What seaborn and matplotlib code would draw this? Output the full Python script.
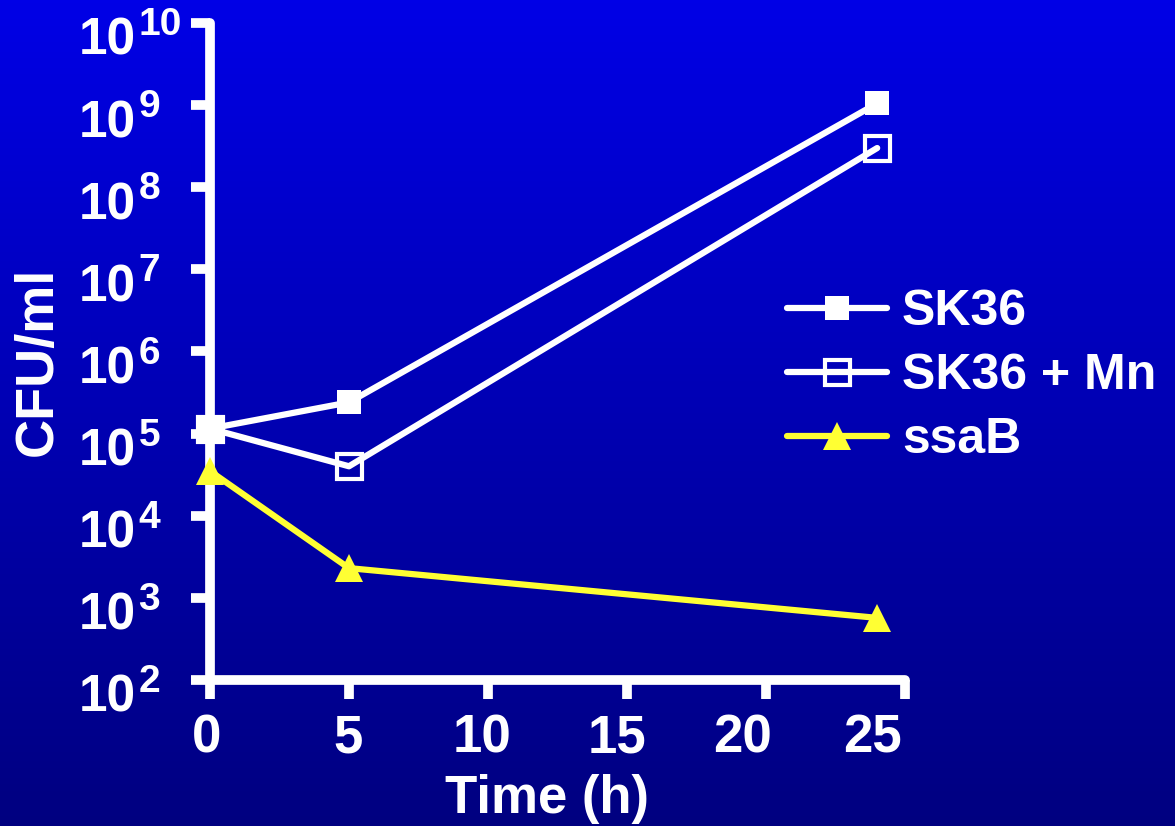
import numpy as np
import matplotlib
matplotlib.use("Agg")
import matplotlib.pyplot as plt
import matplotlib.transforms as mtrans
import seaborn as sns
from matplotlib.colors import LinearSegmentedColormap

# data
time_h = [0, 5, 24]
sk36 = [1.15e5, 2.4e5, 1.05e9]
sk36_mn = [1.15e5, 4.0e4, 3.0e8]
ssab = [3.5e4, 2.3e3, 5.7e2]

y_decades = list(range(2, 11))
x_ticks = [0, 5, 10, 15, 20, 25]
# small horizontal shifts of the x tick labels seen in the reference (px)
x_label_shift = [-3, -1, -6, -10, -23, -32]

sns.set_style("ticks")
plt.rcParams["font.family"] = ["Liberation Sans", "DejaVu Sans"]
plt.rcParams["font.weight"] = "bold"

fig = plt.figure(figsize=(11.75, 8.26), dpi=100)

# gradient background
bg = fig.add_axes([0, 0, 1, 1], zorder=-10)
cmap = LinearSegmentedColormap.from_list("bg", ["#0000E6", "#000080"])
bg.imshow(np.linspace(0, 1, 256).reshape(-1, 1), aspect="auto", cmap=cmap,
          extent=[0, 1, 0, 1])
bg.axis("off")

ax = fig.add_axes([0.1787, 0.1768, 0.5915, 0.7954])
ax.set_facecolor("none")

lw = 4.5
sns.lineplot(x=time_h, y=sk36, ax=ax, color="white", lw=lw, marker="s",
             markersize=17, markeredgewidth=0, label="SK36", clip_on=False,
             zorder=5)
sns.lineplot(x=time_h, y=sk36_mn, ax=ax, color="white", lw=lw, marker="s",
             markersize=18, markerfacecolor="none", markeredgecolor="white",
             markeredgewidth=3, label="SK36 + Mn", clip_on=False, zorder=5)
sns.lineplot(x=time_h, y=ssab, ax=ax, color="#FFFF33", lw=lw, marker="^",
             markersize=20, markeredgewidth=0, label="ssaB", clip_on=False,
             zorder=6)

ax.set_yscale("log")
ax.set_ylim(1e2, 1e10)
ax.set_xlim(0, 25)
ax.set_yticks([10.0 ** d for d in y_decades])
ax.set_yticklabels(["10"] * len(y_decades))
ax.yaxis.set_minor_locator(matplotlib.ticker.NullLocator())
ax.set_xticks(x_ticks)
ax.set_xticklabels([str(t) for t in x_ticks])

for s in ["top", "right"]:
    ax.spines[s].set_visible(False)
for s in ["left", "bottom"]:
    ax.spines[s].set_color("white")
    ax.spines[s].set_linewidth(7)
    ax.spines[s].set_capstyle("round")

ax.tick_params(axis="both", colors="white", width=7, length=14)
ax.tick_params(axis="y", pad=80.5, labelsize=37)
ax.tick_params(axis="x", pad=10, labelsize=38)

down = mtrans.ScaledTranslation(0, -13 / 100, fig.dpi_scale_trans)
for lab in ax.get_yticklabels():
    lab.set_horizontalalignment("left")
    lab.set_fontweight("bold")
    lab.set_transform(lab.get_transform() + down)
for lab, dx in zip(ax.get_xticklabels(), x_label_shift):
    lab.set_fontweight("bold")
    lab.set_transform(lab.get_transform() +
                      mtrans.ScaledTranslation(dx / 100, 0, fig.dpi_scale_trans))

# exponents of the y tick labels
for d in y_decades:
    ax.annotate(str(d), xy=(0, 10.0 ** d), xycoords=ax.get_yaxis_transform(),
                xytext=(-51.5, -1.5), textcoords="offset points", ha="left",
                va="center", fontsize=28, fontweight="bold", color="white",
                annotation_clip=False)

fig.text(38 / 1175, 1 - 361 / 826, "CFU/ml", rotation=90, ha="center",
         va="center", color="white", fontsize=39, fontweight="bold")
fig.text(547 / 1175, 1 - 813 / 826, "Time (h)", ha="center", va="baseline",
         color="white", fontsize=38, fontweight="bold")

ax.get_legend().remove()
handles, labels = ax.get_legend_handles_labels()
leg = fig.legend(handles, labels, loc="center left",
                 bbox_to_anchor=(0.6315, 0.5447), frameon=False,
                 fontsize=36, handlelength=2.0, handletextpad=0.3,
                 labelspacing=0.36)
for t in leg.get_texts():
    t.set_color("white")
    t.set_fontweight("bold")

fig.savefig("out.png", dpi=100)
